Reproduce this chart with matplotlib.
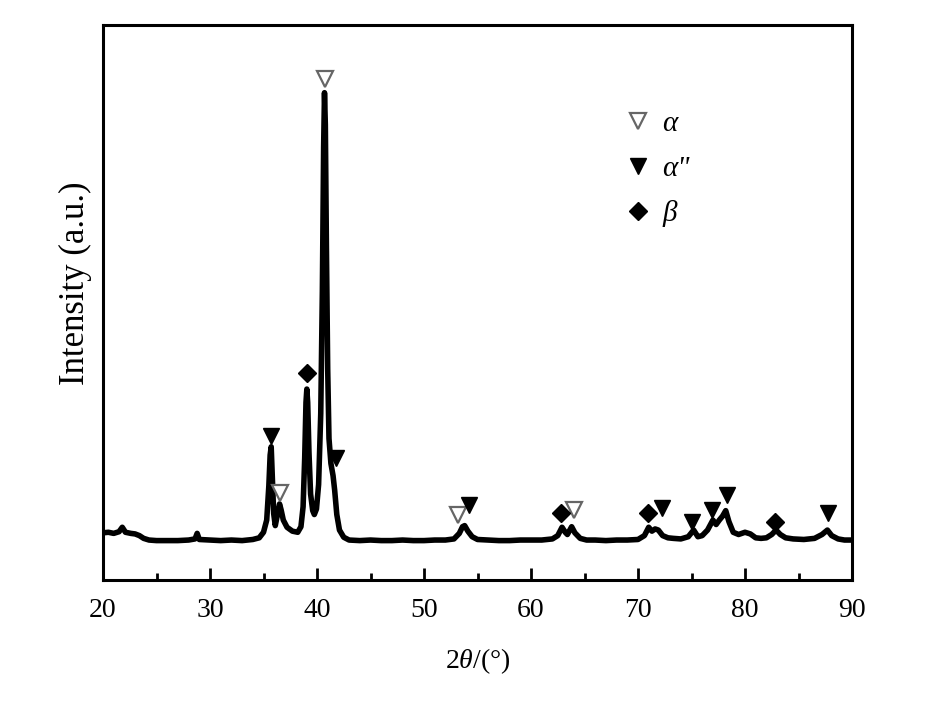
import matplotlib
matplotlib.use("Agg")
import matplotlib.pyplot as plt
from matplotlib.font_manager import FontProperties
from matplotlib.ticker import MultipleLocator

plt.rcParams['font.family'] = ['Liberation Serif', 'DejaVu Serif']
plt.rcParams['mathtext.fontset'] = 'custom'
plt.rcParams['mathtext.rm'] = 'Liberation Serif'
plt.rcParams['mathtext.it'] = 'Liberation Serif:italic'

# XRD pattern (2theta in degrees, intensity in arbitrary units)
two_theta = [20.0, 20.5, 21.0, 21.5, 21.8, 22.1, 22.6, 23.0, 23.4, 23.8, 24.3,
             25.0, 26.0, 27.0, 28.0, 28.6, 28.8, 29.0, 30.0, 31.0, 32.0, 33.0,
             34.0, 34.6, 35.0, 35.3, 35.5, 35.62, 35.72, 35.82, 35.95, 36.1,
             36.3, 36.5, 36.65, 36.85, 37.2, 37.7, 38.2, 38.5, 38.7, 38.85,
             38.97, 39.05, 39.13, 39.25, 39.4, 39.6, 39.75, 39.95, 40.15, 40.35,
             40.5, 40.62, 40.7, 40.78, 40.88, 41.0, 41.12, 41.3, 41.5, 41.65,
             41.85, 42.1, 42.5, 43.0, 44.0, 45.0, 46.0, 47.0, 48.0, 49.0, 50.0,
             51.0, 52.0, 52.8, 53.3, 53.6, 53.8, 54.1, 54.5, 55.0, 56.0, 57.0,
             58.0, 59.0, 60.0, 61.0, 62.0, 62.5, 62.9, 63.2, 63.4, 63.8, 64.1,
             64.6, 65.2, 66.0, 67.0, 68.0, 69.0, 70.0, 70.6, 71.0, 71.3, 71.6,
             71.9, 72.3, 72.8, 73.3, 74.0, 74.7, 75.2, 75.6, 76.0, 76.5, 77.0,
             77.3, 77.6, 77.9, 78.2, 78.5, 78.9, 79.4, 80.0, 80.5, 81.0, 81.5,
             82.0, 82.5, 82.9, 83.3, 83.8, 84.5, 85.5, 86.5, 87.2, 87.7, 88.1,
             88.7, 89.3, 90.0]
intensity = [85, 86, 84, 87, 95, 86, 84, 83, 80, 75, 72,
             71, 71, 71, 72, 74, 84, 73, 72, 71, 72, 71,
             73, 76, 86, 108, 170, 225, 240, 190, 120, 98,
             118, 137, 126, 108, 95, 88, 86, 96, 132, 220,
             320, 344, 320, 230, 155, 125, 118, 128, 172, 300,
             520, 780, 878, 820, 600, 380, 255, 210, 188, 162,
             118, 90, 77, 72, 71, 72, 71, 71, 72, 71, 71,
             72, 72, 74, 84, 96, 98, 88, 78, 73, 72, 71,
             71, 72, 72, 72, 74, 80, 95, 86, 82, 96, 85,
             75, 72, 72, 71, 72, 72, 73, 80, 95, 88, 92,
             90, 80, 76, 75, 74, 78, 90, 78, 80, 90, 108,
             100, 108, 115, 125, 105, 86, 82, 86, 83, 76, 75,
             76, 82, 90, 82, 76, 74, 73, 75, 82, 90, 80,
             74, 72, 72]

# phase markers
alpha_x = [36.55, 40.75, 53.2, 64.0]
alpha_y = [157, 902, 117, 126]
alpha2_x = [35.7, 41.75, 54.2, 72.2, 75.05, 76.9, 78.3, 87.75]
alpha2_y = [259, 220, 135, 130, 105, 126, 153, 121]
beta_x = [39.05, 62.8, 70.95, 82.8]
beta_y = [373, 121, 120, 105]

fig = plt.figure(figsize=(9.3, 7.05), dpi=100)
ax = fig.add_axes([103 / 930, 125 / 705, 749 / 930, 555 / 705])

ax.plot(two_theta, intensity, color='black', lw=4, solid_joinstyle='round')

h1, = ax.plot(alpha_x, alpha_y, 'v', ms=11, mfc='white', mec='#666666', mew=1.6,
              ls='none')
h2, = ax.plot(alpha2_x, alpha2_y, 'v', ms=12, color='black', ls='none')
h3, = ax.plot(beta_x, beta_y, 'D', ms=9, color='black', ls='none')

ax.set_xlim(20, 90)
ax.set_ylim(0, 1000)
ax.set_yticks([])
ax.xaxis.set_major_locator(MultipleLocator(10))
ax.xaxis.set_minor_locator(MultipleLocator(5))
ax.tick_params(axis='x', which='major', direction='in', length=9, width=2,
               labelsize=20, pad=13)
ax.tick_params(axis='x', which='minor', direction='in', length=5, width=2)
for sp in ax.spines.values():
  sp.set_linewidth(2.2)

ax.set_xlabel(r'2$\mathit{\theta}$/(°)', fontsize=20, labelpad=17)
fig.text(75 / 930, 1 - 283 / 705, 'Intensity (a.u.)', rotation=90, fontsize=25,
         ha='center', va='center')

ax.legend([h1, h2, h3], ['α', 'α"', 'β'], loc='upper left',
          bbox_to_anchor=(0.695, 0.845), borderaxespad=0, borderpad=0,
          frameon=False, numpoints=1, handlelength=1.0, handletextpad=0.33,
          labelspacing=0.62,
          prop=FontProperties(family='Liberation Serif', style='italic', size=21))

fig.savefig('out.png', dpi=100)
